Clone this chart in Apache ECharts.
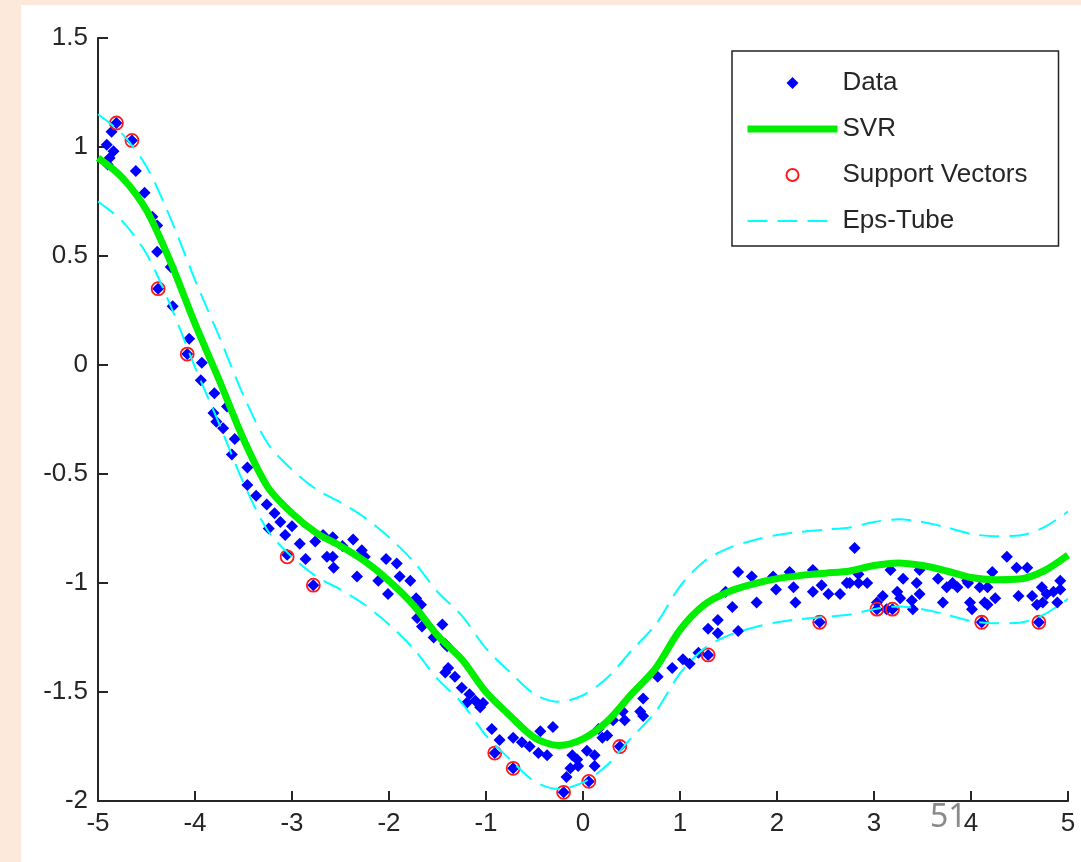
<!DOCTYPE html>
<html>
<head>
<meta charset="utf-8">
<script src="https://cdn.jsdelivr.net/npm/echarts@6/dist/echarts.min.js"></script>
<style>
  html, body { margin: 0; padding: 0; background: #fce9dc; }
  #sheet { position: absolute; left: 21px; top: 5px; width: 1060px; height: 857px; background: #ffffff; }
  #svr { position: absolute; left: 0; top: 0; width: 1081px; height: 862px; }
</style>
</head>
<body>
<div id="sheet"></div>
<div id="svr"></div>
<script>
// observed samples (x, y)
var dataPoints = [
  [-4.91, 1.01], [-4.86, 1.07], [-4.81, 1.11], [-4.84, 0.98], [-4.88, 0.95], [-4.90, 0.92],
  [-4.65, 1.03], [-4.61, 0.89], [-4.52, 0.79], [-4.44, 0.68], [-4.39, 0.64], [-4.39, 0.52],
  [-4.25, 0.45], [-4.38, 0.35], [-4.23, 0.27], [-4.06, 0.12], [-4.08, 0.05], [-3.93, 0.01],
  [-3.94, -0.07], [-3.80, -0.13], [-3.67, -0.19], [-3.81, -0.22], [-3.78, -0.26], [-3.71, -0.29],
  [-3.59, -0.34], [-3.62, -0.41], [-3.46, -0.47], [-3.46, -0.55], [-3.37, -0.60], [-3.26, -0.64],
  [-3.18, -0.68], [-3.12, -0.72], [-3.24, -0.75], [-3.07, -0.78], [-3.00, -0.74], [-2.92, -0.82],
  [-2.86, -0.89], [-2.76, -0.81], [-2.68, -0.78], [-2.58, -0.79], [-2.48, -0.83], [-2.37, -0.80],
  [-2.64, -0.88], [-3.05, -0.87], [-2.78, -1.01], [-2.28, -0.85], [-2.25, -0.88], [-2.58, -0.88],
  [-2.57, -0.93], [-2.33, -0.97], [-2.03, -0.89], [-1.92, -0.91], [-1.89, -0.97], [-1.78, -0.99],
  [-2.11, -0.99], [-2.01, -1.05], [-1.72, -1.07], [-1.67, -1.10], [-1.71, -1.16], [-1.66, -1.20],
  [-1.45, -1.19], [-1.54, -1.25], [-1.40, -1.29], [-1.42, -1.28], [-1.39, -1.39], [-1.42, -1.41],
  [-1.32, -1.43], [-1.25, -1.48], [-1.17, -1.51], [-1.20, -1.55], [-1.11, -1.54], [-1.06, -1.57],
  [-1.03, -1.55], [-0.94, -1.67], [-0.86, -1.72], [-0.72, -1.71], [-0.63, -1.73], [-0.55, -1.75],
  [-0.46, -1.78], [-0.37, -1.79], [-0.44, -1.68], [-0.31, -1.66], [-0.91, -1.78], [-0.72, -1.85],
  [-0.20, -1.96], [-0.11, -1.79], [-0.06, -1.81], [-0.13, -1.85], [-0.17, -1.89], [-0.05, -1.84],
  [0.04, -1.77], [0.12, -1.79], [0.12, -1.84], [0.06, -1.91], [0.20, -1.71], [0.16, -1.67],
  [0.25, -1.70], [0.31, -1.63], [0.41, -1.59], [0.43, -1.63], [0.38, -1.75], [0.59, -1.59],
  [0.62, -1.53], [0.62, -1.61], [0.77, -1.43], [0.92, -1.39], [1.03, -1.35], [1.10, -1.37],
  [1.19, -1.32], [1.29, -1.33], [1.29, -1.21], [1.39, -1.17], [1.39, -1.23], [1.60, -1.22],
  [1.54, -1.11], [1.47, -1.04], [1.60, -0.95], [1.74, -0.97], [1.79, -1.09], [1.96, -0.97],
  [1.99, -1.03], [2.13, -0.95], [2.17, -1.02], [2.19, -1.09], [2.37, -0.94], [2.46, -1.01],
  [2.37, -1.04], [2.53, -1.05], [2.65, -1.05], [2.72, -1.00], [2.80, -0.84], [2.44, -1.18],
  [2.84, -1.00], [2.93, -1.00], [2.75, -1.00], [2.84, -0.96], [3.24, -1.04], [3.30, -0.98],
  [3.44, -1.00], [3.47, -1.05], [3.39, -1.08], [3.27, -1.07], [3.17, -0.94], [3.47, -0.94],
  [3.66, -0.98], [3.75, -1.02], [3.71, -1.09], [3.81, -1.00], [3.86, -1.02], [3.96, -0.99],
  [3.97, -1.00], [3.99, -1.09], [4.09, -1.02], [4.14, -1.09], [4.17, -1.10], [4.22, -0.95],
  [4.25, -1.07], [4.17, -1.02], [4.37, -0.88], [4.47, -0.93], [4.58, -0.93], [4.49, -1.06],
  [4.63, -1.06], [4.68, -1.10], [4.73, -1.02], [4.74, -1.09], [4.78, -1.05], [4.89, -1.09],
  [4.92, -0.99], [4.92, -1.03], [4.85, -1.04], [3.03, -1.09], [3.09, -1.06], [4.01, -1.12],
  [3.13, -1.12], [3.40, -1.12], [3.03, -1.12], [3.19, -1.12], [4.11, -1.18], [4.70, -1.18]
];

var supportVectors = [
  [-4.81, 1.11], [-4.65, 1.03], [-4.38, 0.35], [-4.08, 0.05], [-3.05, -0.88], [-2.78, -1.01],
  [-0.91, -1.78], [-0.72, -1.85], [-0.20, -1.96], [0.06, -1.91], [0.38, -1.75], [1.29, -1.33],
  [2.44, -1.18], [3.03, -1.12], [3.19, -1.12], [4.11, -1.18], [4.70, -1.18]
];

var curveX = [
  -5, -4.75, -4.5, -4.25, -4, -3.75, -3.5, -3.25, -3, -2.75, -2.5, -2.25, -2, -1.75,
  -1.5, -1.25, -1, -0.75, -0.5, -0.25, 0, 0.25, 0.5, 0.75, 1, 1.25, 1.5, 1.75, 2,
  2.25, 2.5, 2.75, 3, 3.25, 3.5, 3.75, 4, 4.25, 4.5, 4.75, 5
];
var svrY = [
  0.95, 0.86, 0.71, 0.47, 0.19, -0.07, -0.34, -0.56, -0.68, -0.77, -0.83, -0.90, -0.99, -1.10,
  -1.24, -1.35, -1.50, -1.61, -1.71, -1.745, -1.715, -1.635, -1.51, -1.39, -1.215, -1.10, -1.04, -1.005, -0.98,
  -0.965, -0.955, -0.945, -0.92, -0.908, -0.92, -0.945, -0.975, -0.985, -0.982, -0.945, -0.872
];
var tubeUpperY = [
  1.15, 1.06, 0.91, 0.67, 0.39, 0.13, -0.14, -0.36, -0.48, -0.57, -0.63, -0.70, -0.79, -0.90,
  -1.04, -1.15, -1.30, -1.41, -1.51, -1.545, -1.515, -1.435, -1.31, -1.19, -1.015, -0.90, -0.84, -0.805, -0.78,
  -0.765, -0.755, -0.745, -0.72, -0.708, -0.72, -0.745, -0.775, -0.785, -0.782, -0.745, -0.672
];
var tubeLowerY = [
  0.75, 0.66, 0.51, 0.27, -0.01, -0.27, -0.54, -0.76, -0.88, -0.97, -1.03, -1.10, -1.19, -1.30,
  -1.44, -1.55, -1.70, -1.81, -1.91, -1.945, -1.915, -1.835, -1.71, -1.59, -1.415, -1.30, -1.24, -1.205, -1.18,
  -1.165, -1.155, -1.145, -1.12, -1.108, -1.12, -1.145, -1.175, -1.185, -1.182, -1.145, -1.072
];

var xTicks = [-5, 5, 1];
var yTicks = [-2, 1.5, 0.5];

function pairs (xs, ys) {
  var out = []
  for (var i = 0; i < xs.length; i++) {
    out.push([xs[i], ys[i]])
  }
  return out
}

var font = 'Liberation Sans, Arial, sans-serif';
var ink = '#262626';
var tubeStyle = { color: '#00ffff', width: 2, type: [20, 10] };
// small diamond centred in the wide legend slot (the corner points only fix the box)
var legendDiamond = 'path://M0,0L0,0M90,12L90,12M39,6L45,0L51,6L45,12Z';

var option = {
  animation: false,
  backgroundColor: 'transparent',
  title: {
    text: '51',
    left: 925,
    top: 797,
    textStyle: { fontFamily: 'Noto Sans, sans-serif', fontSize: 32, fontWeight: 'normal', color: '#8a8a8a' }
  },
  grid: { left: 98, right: 13, top: 38, bottom: 61 },
  legend: {
    orient: 'vertical',
    left: 732,
    top: 51,
    padding: [17, 31, 10, 12],
    itemGap: 16,
    itemWidth: 90,
    itemHeight: 12,
    symbolKeepAspect: false,
    borderColor: '#222',
    borderWidth: 1.5,
    backgroundColor: '#ffffff',
    textStyle: { fontFamily: font, fontSize: 26, color: ink, lineHeight: 30 },
    data: [
      { name: 'Data', icon: legendDiamond },
      { name: 'SVR', lineStyle: { width: 7 } },
      { name: 'Support Vectors' },
      { name: 'Eps-Tube', lineStyle: { width: 2 } }
    ]
  },
  xAxis: {
    type: 'value',
    min: xTicks[0],
    max: xTicks[1],
    interval: xTicks[2],
    axisLine: { onZero: false, lineStyle: { color: ink, width: 2 } },
    axisTick: { inside: true, length: 10, lineStyle: { color: ink, width: 2 } },
    axisLabel: { margin: 10, fontFamily: font, fontSize: 26, color: ink },
    splitLine: { show: false }
  },
  yAxis: {
    type: 'value',
    min: yTicks[0],
    max: yTicks[1],
    interval: yTicks[2],
    axisLine: { show: true, onZero: false, lineStyle: { color: ink, width: 2 } },
    axisTick: { show: true, inside: true, length: 10, lineStyle: { color: ink, width: 2 } },
    axisLabel: { margin: 10, fontFamily: font, fontSize: 26, color: ink },
    splitLine: { show: false }
  },
  series: [
    {
      name: 'Data',
      type: 'scatter',
      symbol: 'diamond',
      symbolSize: 12,
      itemStyle: { color: '#0000ff', opacity: 1 },
      data: dataPoints
    },
    {
      name: 'SVR',
      type: 'line',
      smooth: 0.3,
      showSymbol: false,
      symbol: 'none',
      lineStyle: { color: '#00ee00', width: 7 },
      itemStyle: { color: '#00ee00', opacity: 0 },
      data: pairs(curveX, svrY)
    },
    {
      name: 'Support Vectors',
      type: 'scatter',
      symbol: 'circle',
      symbolSize: 13,
      itemStyle: { color: 'rgba(0,0,0,0)', borderColor: '#ff1a1a', borderWidth: 1.8, opacity: 1 },
      data: supportVectors
    },
    {
      name: 'Eps-Tube',
      type: 'line',
      smooth: 0.3,
      symbol: 'none',
      lineStyle: tubeStyle,
      itemStyle: { color: '#00ffff', opacity: 0 },
      data: pairs(curveX, tubeUpperY)
    },
    {
      name: 'Eps-Tube',
      type: 'line',
      smooth: 0.3,
      symbol: 'none',
      lineStyle: tubeStyle,
      itemStyle: { color: '#00ffff', opacity: 0 },
      data: pairs(curveX, tubeLowerY)
    }
  ]
};

var chart = echarts.init(document.getElementById('svr'));
chart.setOption(option);
</script>
</body>
</html>
